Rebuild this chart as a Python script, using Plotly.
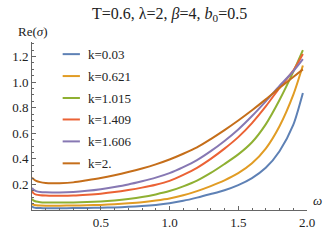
import plotly.graph_objects as go

omega = [0.0, 0.01, 0.03, 0.06, 0.1, 0.15, 0.2, 0.3, 0.4, 0.5, 0.6, 0.7, 0.8, 0.9, 1.0,
         1.1, 1.2, 1.3, 1.4, 1.5, 1.6, 1.7, 1.8, 1.9, 1.97]

k_labels = ["k=0.03", "k=0.621", "k=1.015", "k=1.409", "k=1.606", "k=2."]

re_k003 = [0.030, 0.020, 0.016, 0.015, 0.014, 0.014, 0.014, 0.015, 0.016, 0.018, 0.020, 0.025,
           0.031, 0.040, 0.053, 0.072, 0.097, 0.125, 0.155, 0.195, 0.250, 0.330, 0.460, 0.665, 0.915]
re_k0621 = [0.050, 0.042, 0.037, 0.035, 0.034, 0.034, 0.034, 0.035, 0.037, 0.040, 0.045, 0.052,
            0.061, 0.074, 0.090, 0.115, 0.148, 0.187, 0.232, 0.288, 0.365, 0.480, 0.655, 0.900, 1.130]
re_k1015 = [0.088, 0.075, 0.066, 0.061, 0.059, 0.058, 0.058, 0.059, 0.062, 0.067, 0.075, 0.086,
            0.101, 0.122, 0.148, 0.185, 0.230, 0.290, 0.360, 0.435, 0.530, 0.670, 0.860, 1.080, 1.250]
re_k1409 = [0.148, 0.132, 0.120, 0.115, 0.113, 0.112, 0.112, 0.114, 0.120, 0.128, 0.140, 0.156,
            0.175, 0.198, 0.228, 0.275, 0.330, 0.400, 0.480, 0.570, 0.680, 0.810, 0.955, 1.090, 1.220]
re_k1606 = [0.173, 0.160, 0.148, 0.141, 0.138, 0.137, 0.137, 0.141, 0.150, 0.163, 0.180, 0.200,
            0.225, 0.253, 0.288, 0.335, 0.390, 0.460, 0.540, 0.630, 0.735, 0.850, 0.970, 1.085, 1.180]
re_k2 = [0.253, 0.243, 0.228, 0.218, 0.212, 0.210, 0.210, 0.216, 0.232, 0.250, 0.272, 0.297,
         0.325, 0.357, 0.395, 0.440, 0.490, 0.555, 0.625, 0.700, 0.780, 0.865, 0.955, 1.040, 1.100]

series = [re_k003, re_k0621, re_k1015, re_k1409, re_k1606, re_k2]
colors = ["#5E81B5", "#E19C24", "#8FB032", "#EB6235", "#8778B3", "#C56E1A"]

x_ticks = [0.5, 1.0, 1.5, 2.0]
x_ticktext = ["0.5", "1.0", "1.5", "2.0"]
y_ticks = [0.2, 0.4, 0.6, 0.8, 1.0, 1.2]
y_ticktext = ["0.2", "0.4", "0.6", "0.8", "1.0", "1.2"]

FONT = "Liberation Serif"
W, H = 327, 242
L, R, T, B = 20, 20, 42, 20
PW, PH = W - L - R, H - T - B


def px(xp):
    return (xp - L) / PW


def py(yp):
    return (H - B - yp) / PH


fig = go.Figure()
for i, (ys, name) in enumerate(zip(series, k_labels)):
    fig.add_trace(go.Scatter(x=omega, y=ys, mode="lines", name=name,
                             line=dict(color=colors[i], width=2, shape="spline", smoothing=0.7),
                             showlegend=False))

# manual legend
shapes = []
annotations = []
leg_y = [55, 78.5, 102, 125, 148.5, 172]
for i, name in enumerate(k_labels):
    shapes.append(dict(type="line", xref="paper", yref="paper",
                       x0=px(52), x1=px(70), y0=py(leg_y[i]), y1=py(leg_y[i]),
                       line=dict(color=colors[i], width=2)))
    annotations.append(dict(text=name, xref="paper", yref="paper", x=px(76), y=py(leg_y[i]),
                            xanchor="left", yanchor="middle", showarrow=False,
                            font=dict(size=13, family=FONT, color="#222222")))

annotations += [
    dict(text="T=0.6, λ=2, <i>β</i>=4, <i>b</i><sub>0</sub>=0.5", xref="paper", yref="paper",
         x=0.5, y=py(13), yanchor="middle", xanchor="center", showarrow=False,
         font=dict(size=16, family=FONT, color="#222222")),
    dict(text="Re(<i>σ</i>)", xref="paper", yref="paper", x=px(3), y=py(31), xanchor="left",
         yanchor="middle", showarrow=False, font=dict(size=13, family=FONT, color="#222222")),
    dict(text="<i>ω</i>", xref="paper", yref="paper", x=px(311), y=py(212), xanchor="left",
         yanchor="middle", showarrow=False, font=dict(size=13, family=FONT, color="#222222")),
]

axis_color = "#666666"
fig.update_layout(
    width=W, height=H,
    margin=dict(l=L, r=R, t=T, b=B, pad=0),
    paper_bgcolor="white", plot_bgcolor="white",
    font=dict(family=FONT, size=13, color="#222222"),
    showlegend=False,
    shapes=shapes,
    annotations=annotations,
    xaxis=dict(range=[0, 2.0], showgrid=False, zeroline=False,
               showline=True, linecolor=axis_color, linewidth=1,
               ticks="inside", ticklen=4, tickcolor=axis_color,
               tickvals=x_ticks, ticktext=x_ticktext,
               minor=dict(ticks="inside", ticklen=2, tickcolor=axis_color, dtick=0.1, showgrid=False),
               tickfont=dict(size=13, family=FONT, color="#222222")),
    yaxis=dict(range=[0, PH / 137.0], showgrid=False, zeroline=False,
               showline=True, linecolor=axis_color, linewidth=1,
               ticks="inside", ticklen=4, tickcolor=axis_color,
               tickvals=y_ticks, ticktext=y_ticktext,
               minor=dict(ticks="inside", ticklen=2, tickcolor=axis_color, dtick=0.05, showgrid=False),
               tickfont=dict(size=13, family=FONT, color="#222222")),
)

fig.write_html("out.html", config={"displayModeBar": False},
               post_script="document.body.style.margin='0';")
